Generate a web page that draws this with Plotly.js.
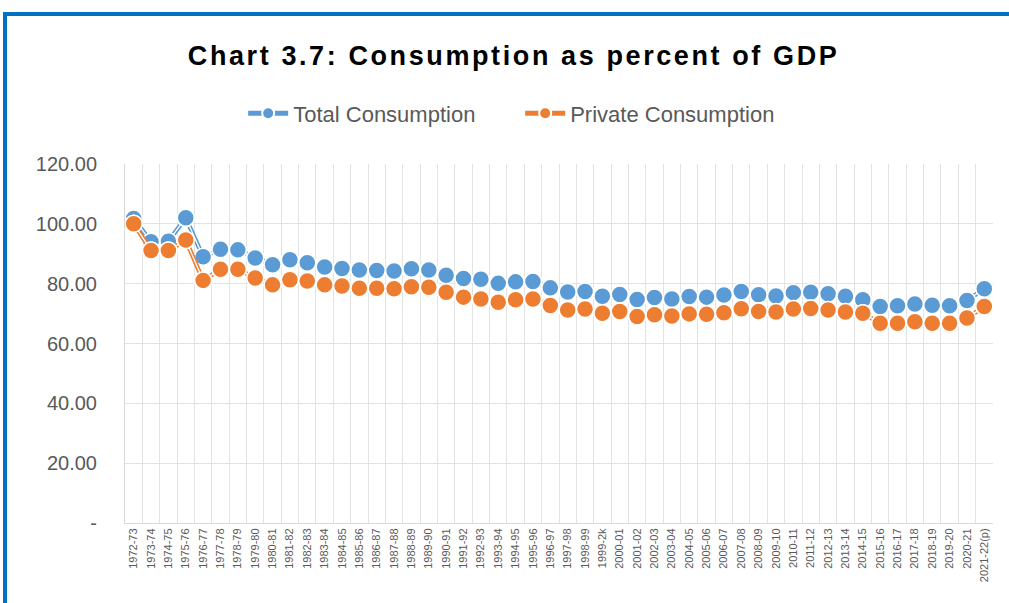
<!DOCTYPE html>
<html>
<head>
<meta charset="utf-8">
<script src="https://cdn.plot.ly/plotly-3.0.1.min.js"></script>
<style>
  html, body { margin: 0; padding: 0; background: #ffffff; overflow: hidden; }
  #frame { position: absolute; left: 3px; top: 12px; width: 1100px; height: 700px;
           border-left: 4px solid #0070C0; border-top: 4px solid #0070C0; }
  #chart { position: absolute; left: 0; top: 0; width: 1009px; height: 603px; }
  .gtitle { letter-spacing: 2.6px; }
</style>
</head>
<body>
<div id="frame"></div>
<div id="chart"></div>
<script>
const categories = ["1972-73","1973-74","1974-75","1975-76","1976-77","1977-78","1978-79","1979-80","1980-81","1981-82",
  "1982-83","1983-84","1984-85","1985-86","1986-87","1987-88","1988-89","1989-90","1990-91","1991-92",
  "1992-93","1993-94","1994-95","1995-96","1996-97","1997-98","1998-99","1999-2k","2000-01","2001-02",
  "2002-03","2003-04","2004-05","2005-06","2006-07","2007-08","2008-09","2009-10","2010-11","2011-12",
  "2012-13","2013-14","2014-15","2015-16","2016-17","2017-18","2018-19","2019-20","2020-21","2021-22(p)"];

const totalConsumption = [101.8, 94.0, 94.2, 102.0, 89.0, 91.5, 91.3, 88.6, 86.3, 88.0,
  87.0, 85.6, 85.1, 84.6, 84.4, 84.2, 85.0, 84.6, 82.8, 81.7,
  81.5, 80.1, 80.6, 80.7, 78.6, 77.2, 77.4, 75.8, 76.4, 74.7,
  75.4, 74.9, 75.7, 75.5, 76.2, 77.4, 76.3, 75.9, 77.0, 77.1,
  76.6, 75.8, 74.6, 72.4, 72.6, 73.2, 72.8, 72.6, 74.4, 78.3];

const privateConsumption = [100.0, 91.1, 91.1, 94.6, 81.1, 84.8, 84.8, 81.9, 79.6, 81.3,
  80.9, 79.6, 79.2, 78.5, 78.5, 78.3, 79.0, 78.8, 77.1, 75.5,
  74.9, 73.8, 74.6, 74.9, 72.7, 71.2, 71.5, 70.1, 70.7, 69.0,
  69.6, 69.2, 69.9, 69.8, 70.3, 71.6, 70.7, 70.5, 71.5, 71.7,
  71.2, 70.5, 70.1, 66.8, 66.8, 67.3, 66.8, 66.8, 68.5, 72.4];

const yTickVals = [0, 20, 40, 60, 80, 100, 120];
const yTickText = ["-", "20.00", "40.00", "60.00", "80.00", "100.00", "120.00"];

const seriesNames = ["Total Consumption", "Private Consumption"];
const seriesColors = ["#5B9BD5", "#ED7D31"];
const seriesData = [totalConsumption, privateConsumption];

const traces = [];
seriesData.forEach((vals, k) => {
  const c = seriesColors[k];
  traces.push({
    x: categories, y: vals, name: seriesNames[k], type: "scatter", mode: "lines+markers",
    line: { color: c, width: 4.5 },
    marker: { color: c, size: 17, line: { color: "#ffffff", width: 1.5 } },
    legendgroup: "g" + k, hoverinfo: "skip"
  });
  traces.push({
    x: categories, y: vals, name: seriesNames[k] + " inner", type: "scatter", mode: "lines",
    line: { color: "#ffffff", width: 1.3 }, showlegend: false, legendgroup: "g" + k, hoverinfo: "skip"
  });
  traces.push({
    x: categories, y: vals, name: seriesNames[k] + " pts", type: "scatter", mode: "markers",
    marker: { color: c, size: 17, line: { color: "#ffffff", width: 1.5 } },
    showlegend: false, legendgroup: "g" + k, hoverinfo: "skip"
  });
});

const layout = {
  width: 1009, height: 603,
  paper_bgcolor: "rgba(0,0,0,0)", plot_bgcolor: "rgba(0,0,0,0)",
  margin: { l: 125, r: 16, t: 164, b: 80 },
  title: {
    text: "Chart 3.7: Consumption as percent of GDP",
    font: { family: "Liberation Sans, Arial, sans-serif", size: 27, color: "#000000", weight: "bold" },
    x: 0.509, xanchor: "center", y: 0.908, yanchor: "middle", xref: "container", yref: "container"
  },
  showlegend: true,
  legend: {
    orientation: "h", x: 0.241, xanchor: "left", xref: "container",
    y: 0.812, yanchor: "middle", yref: "container",
    font: { family: "Liberation Sans, Arial, sans-serif", size: 22, color: "#595959" },
    itemwidth: 40, itemsizing: "constant", entrywidth: 222, bgcolor: "rgba(0,0,0,0)"
  },
  xaxis: {
    type: "category", tickson: "boundaries", showgrid: true, gridcolor: "#E3E3E3", gridwidth: 1,
    showline: true, linecolor: "#D9D9D9", linewidth: 1, ticks: "", tickangle: -90,
    tickfont: { family: "Liberation Sans, Arial, sans-serif", size: 11, color: "#595959" },
    range: [-0.5, categories.length - 0.5], fixedrange: true, zeroline: false
  },
  yaxis: {
    range: [0, 120], tickvals: yTickVals, ticktext: yTickText, showgrid: true,
    gridcolor: "#E3E3E3", gridwidth: 1, zeroline: false, showline: true, linecolor: "#D9D9D9",
    tickfont: { family: "Liberation Sans, Arial, sans-serif", size: 20, color: "#595959" },
    ticklabelstandoff: 23, fixedrange: true
  }
};

Plotly.newPlot("chart", traces, layout, { displayModeBar: false, staticPlot: true });
</script>
</body>
</html>
